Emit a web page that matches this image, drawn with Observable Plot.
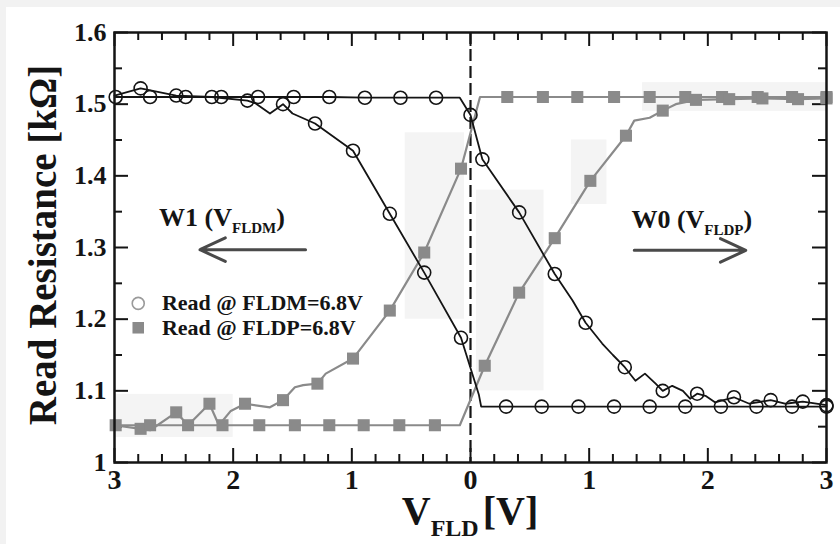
<!DOCTYPE html>
<html>
<head>
<meta charset="utf-8">
<script src="https://cdn.jsdelivr.net/npm/d3@7"></script>
<script src="https://cdn.jsdelivr.net/npm/@observablehq/plot@0.6"></script>
<style>
  html, body { margin: 0; padding: 0; background: #f2f2f2; }
  #chart { position: absolute; left: 6px; top: 7px; width: 834px; height: 537px; background: #fff; }
  #chart svg { display: block; }
</style>
</head>
<body>
<div id="chart"></div>
<script>
// ---- Read resistance (kΩ) vs. field-line voltage V_FLD (V) ----
// Each curve: voltages, resistances, and whether a marker is drawn at that vertex (1) or the
// vertex only shapes the connecting line (0).

// Read @ FLDM: stays high until 0 V, then relaxes gradually on the W0 side
const fldmHoldV = [-2.99, -2.70, -2.40, -2.10, -1.79, -1.49, -1.19, -0.89, -0.59, -0.29, -0.09, 0.00, 0.10, 0.41, 0.71, 0.86, 0.97, 1.11, 1.20, 1.30, 1.39, 1.47, 1.56, 1.62, 1.70, 1.79, 1.85, 1.91, 1.98, 2.06, 2.22, 2.35, 2.53, 2.65, 2.80, 3.00];
const fldmHoldR = [1.510, 1.510, 1.510, 1.510, 1.510, 1.510, 1.510, 1.509, 1.509, 1.509, 1.509, 1.485, 1.423, 1.349, 1.263, 1.226, 1.195, 1.166, 1.150, 1.133, 1.114, 1.124, 1.110, 1.100, 1.107, 1.100, 1.089, 1.096, 1.093, 1.084, 1.091, 1.082, 1.087, 1.082, 1.085, 1.080];
const fldmHoldM = [1, 1, 1, 1, 1, 1, 1, 1, 1, 1, 0, 1, 1, 1, 1, 0, 1, 0, 0, 1, 0, 0, 0, 1, 0, 0, 0, 1, 0, 0, 1, 0, 1, 0, 1, 1];

// Read @ FLDM: gradual drop on the W1 side, then low after 0 V
const fldmDropV = [-3.00, -2.78, -2.48, -2.18, -1.88, -1.81, -1.69, -1.58, -1.50, -1.31, -0.99, -0.68, -0.39, -0.08, 0.07, 0.09, 0.30, 0.60, 0.91, 1.21, 1.51, 1.81, 2.11, 2.41, 2.71, 3.00];
const fldmDropR = [1.512, 1.522, 1.512, 1.510, 1.505, 1.501, 1.487, 1.500, 1.487, 1.473, 1.435, 1.347, 1.265, 1.174, 1.095, 1.078, 1.078, 1.078, 1.078, 1.078, 1.078, 1.078, 1.078, 1.078, 1.078, 1.078];
const fldmDropM = [0, 1, 1, 1, 1, 0, 0, 1, 0, 1, 1, 1, 1, 1, 0, 0, 1, 1, 1, 1, 1, 1, 1, 1, 1, 1];

// Read @ FLDP: gradual rise on the W1 side, then high after 0 V
const fldpRiseV = [-3.00, -2.78, -2.70, -2.48, -2.38, -2.20, -2.12, -2.02, -1.90, -1.69, -1.58, -1.48, -1.41, -1.29, -1.22, -0.99, -0.68, -0.39, -0.08, 0.08, 0.31, 0.61, 0.90, 1.21, 1.51, 1.81, 2.12, 2.42, 2.71, 3.00];
const fldpRiseR = [1.052, 1.047, 1.045, 1.070, 1.052, 1.082, 1.052, 1.072, 1.082, 1.077, 1.087, 1.105, 1.108, 1.110, 1.124, 1.145, 1.212, 1.293, 1.410, 1.510, 1.510, 1.510, 1.510, 1.510, 1.510, 1.510, 1.510, 1.510, 1.510, 1.510];
const fldpRiseM = [0, 1, 0, 1, 0, 1, 0, 0, 1, 0, 1, 0, 0, 1, 0, 1, 1, 1, 1, 0, 1, 1, 1, 1, 1, 1, 1, 1, 1, 1];

// Read @ FLDP: stays low until 0 V, then rises gradually on the W0 side
const fldpHoldV = [-2.99, -2.70, -2.38, -2.09, -1.78, -1.48, -1.19, -0.90, -0.60, -0.30, -0.09, 0.12, 0.41, 0.71, 1.01, 1.31, 1.38, 1.51, 1.62, 1.73, 1.90, 2.18, 2.46, 2.76, 3.00];
const fldpHoldR = [1.052, 1.052, 1.052, 1.052, 1.052, 1.052, 1.052, 1.052, 1.052, 1.052, 1.052, 1.135, 1.237, 1.313, 1.393, 1.456, 1.477, 1.481, 1.491, 1.500, 1.506, 1.507, 1.508, 1.507, 1.508];
const fldpHoldM = [1, 1, 1, 1, 1, 1, 1, 1, 1, 1, 0, 1, 1, 1, 1, 1, 0, 0, 1, 0, 1, 1, 1, 1, 1];

// Device-to-device spread of the FLDP reads (faint shaded ranges)
const spreadV1 = [-3.00, -0.55, 0.05, 0.85, 1.45];
const spreadV2 = [-2.00, -0.05, 0.62, 1.15, 3.00];
const spreadR1 = [1.035, 1.200, 1.100, 1.360, 1.490];
const spreadR2 = [1.095, 1.460, 1.380, 1.450, 1.530];

// Axis ticks
const xMajor = [-3, -2, -1, 0, 1, 2, 3];
const xMinor = [-2.8, -2.6, -2.4, -2.2, -1.8, -1.6, -1.4, -1.2, -0.8, -0.6, -0.4, -0.2, 0.2, 0.4, 0.6, 0.8, 1.2, 1.4, 1.6, 1.8, 2.2, 2.4, 2.6, 2.8];
const yMajor = [1.0, 1.1, 1.2, 1.3, 1.4, 1.5, 1.6];
const yMinor = [1.05, 1.15, 1.25, 1.35, 1.45, 1.55];

// Legend entries and write-direction annotations
const legendLabels = ["Read @ FLDM=6.8V", "Read @ FLDP=6.8V"];
const legendSymbols = ["circle", "square"];
const legendR = [1.222, 1.188];
const legendV = -2.8;
const legendTextV = -2.6;
const writeLabels = [["W1 (V", "FLDM", ")"], ["W0 (V", "FLDP", ")"]];
const writeLabelV = [-2.62, 1.36];
const writeLabelR = [1.330, 1.326];
const arrowFromV = [-1.39, 1.38];
const arrowToV = [-2.28, 2.32];
const arrowR = [1.297, 1.296];

// ---- layout ----
const W = 834, H = 537;
const M = {top: 25, right: 14, bottom: 82, left: 108};
const plotW = W - M.left - M.right;
const plotH = H - M.top - M.bottom;
const serif = "'Liberation Serif', 'DejaVu Serif', 'Times New Roman', serif";
const ink = "#141414";
const grey = "#8a8a8a";

const rows = (v, r, m) => v.map((x, i) => ({v: x, r: r[i], m: m[i]}));
const circHold = rows(fldmHoldV, fldmHoldR, fldmHoldM);
const circDrop = rows(fldmDropV, fldmDropR, fldmDropM);
const sqRise = rows(fldpRiseV, fldpRiseR, fldpRiseM);
const sqHold = rows(fldpHoldV, fldpHoldR, fldpHoldM);
const marked = (d) => d.filter((p) => p.m === 1);
const spread = spreadV1.map((v, i) => ({x1: v, x2: spreadV2[i], y1: spreadR1[i], y2: spreadR2[i]}));

const legend = legendLabels.map((t, i) => ({t, s: legendSymbols[i], r: legendR[i]}));
const arrows = arrowFromV.map((v, i) => ({x1: v, x2: arrowToV[i], y: arrowR[i]}));

const majorLen = 14, minorLen = 8;
const tickStyle = {stroke: ink, strokeWidth: 2};

const chart = Plot.plot({
  width: W,
  height: H,
  marginTop: M.top,
  marginRight: M.right,
  marginBottom: M.bottom,
  marginLeft: M.left,
  x: {domain: [-3, 3]},
  y: {domain: [1, 1.6]},
  style: {fontFamily: serif, fontWeight: "bold", background: "white", color: ink},
  marks: [
    // faint spread ranges
    Plot.rect(spread, {x1: "x1", x2: "x2", y1: "y1", y2: "y2", fill: "#f4f4f4"}),

    // inward ticks on all four sides
    Plot.ruleX(xMajor, {...tickStyle, insetTop: plotH - majorLen}),
    Plot.ruleX(xMajor, {...tickStyle, insetBottom: plotH - majorLen}),
    Plot.ruleX(xMinor, {...tickStyle, insetTop: plotH - minorLen}),
    Plot.ruleX(xMinor, {...tickStyle, insetBottom: plotH - minorLen}),
    Plot.ruleY(yMajor, {...tickStyle, insetRight: plotW - majorLen}),
    Plot.ruleY(yMajor, {...tickStyle, insetLeft: plotW - majorLen}),
    Plot.ruleY(yMinor, {...tickStyle, insetRight: plotW - minorLen}),
    Plot.ruleY(yMinor, {...tickStyle, insetLeft: plotW - minorLen}),

    // 0 V divider
    Plot.ruleX([0], {stroke: ink, strokeWidth: 2.2, strokeDasharray: "12,5"}),

    // FLDP curves (grey squares)
    Plot.line(sqRise, {x: "v", y: "r", stroke: grey, strokeWidth: 2.2}),
    Plot.line(sqHold, {x: "v", y: "r", stroke: grey, strokeWidth: 2.2}),
    Plot.dot(marked(sqRise), {x: "v", y: "r", symbol: "square", r: 6.8, fill: grey}),
    Plot.dot(marked(sqHold), {x: "v", y: "r", symbol: "square", r: 6.8, fill: grey}),

    // FLDM curves (open circles)
    Plot.line(circHold, {x: "v", y: "r", stroke: ink, strokeWidth: 1.8}),
    Plot.line(circDrop, {x: "v", y: "r", stroke: ink, strokeWidth: 1.8}),
    Plot.dot(marked(circHold), {x: "v", y: "r", r: 6.5, stroke: ink, strokeWidth: 1.6, fill: "none"}),
    Plot.dot(marked(circDrop), {x: "v", y: "r", r: 6.5, stroke: ink, strokeWidth: 1.6, fill: "none"}),

    // write-direction arrows
    Plot.arrow(arrows, {x1: "x1", x2: "x2", y1: "y", y2: "y", stroke: "#4a4a4a", strokeWidth: 3, headLength: 14, headAngle: 50}),

    // legend
    Plot.dot(legend.filter((d) => d.s === "circle"), {x: () => legendV, y: "r", r: 6, stroke: "#9a9a9a", strokeWidth: 1.6, fill: "none"}),
    Plot.dot(legend.filter((d) => d.s === "square"), {x: () => legendV, y: "r", symbol: "square", r: 6.5, fill: grey}),
    Plot.text(legend, {x: () => legendTextV, y: "r", text: "t", textAnchor: "start", fontSize: 22, fontWeight: "bold", fill: ink}),

    Plot.frame({stroke: ink, strokeWidth: 2.5}),

    Plot.axisX({ticks: xMajor, tickSize: 0, tickPadding: 7, tickFormat: (d) => String(Math.abs(d)), fontSize: 28, fontWeight: "bold", label: null}),
    Plot.axisY({ticks: yMajor, tickSize: 0, tickPadding: 8, tickFormat: (d) => String(+d.toFixed(1)), fontSize: 26, fontWeight: "bold", label: null})
  ]
});

document.getElementById("chart").appendChild(chart);

// Titles and subscripted annotations, placed through the plot's own scales
const xs = chart.scale("x");
const ys = chart.scale("y");
const svg = d3.select(chart);

svg.append("text")
  .attr("transform", `translate(${M.left - 58},${M.top + plotH / 2 - 2}) rotate(-90)`)
  .attr("text-anchor", "middle")
  .attr("font-family", serif)
  .attr("font-weight", "bold")
  .attr("font-size", 39)
  .attr("fill", ink)
  .text("Read Resistance [kΩ]");

const xTitle = svg.append("text")
  .attr("x", xs.apply(0))
  .attr("y", H - 20)
  .attr("text-anchor", "middle")
  .attr("font-family", serif)
  .attr("font-weight", "bold")
  .attr("fill", ink);
xTitle.append("tspan").attr("font-size", 40).text("V");
xTitle.append("tspan").attr("font-size", 24).attr("dy", 12).text("FLD");
xTitle.append("tspan").attr("font-size", 40).attr("dy", -12).attr("dx", 4).text("[V]");

writeLabels.forEach((parts, i) => {
  const t = svg.append("text")
    .attr("x", xs.apply(writeLabelV[i]))
    .attr("y", ys.apply(writeLabelR[i]))
    .attr("text-anchor", "start")
    .attr("font-family", serif)
    .attr("font-weight", "bold")
    .attr("fill", ink);
  t.append("tspan").attr("font-size", 26).text(parts[0]);
  t.append("tspan").attr("font-size", 15).attr("dy", 7).text(parts[1]);
  t.append("tspan").attr("font-size", 26).attr("dy", -7).text(parts[2]);
});
</script>
</body>
</html>
